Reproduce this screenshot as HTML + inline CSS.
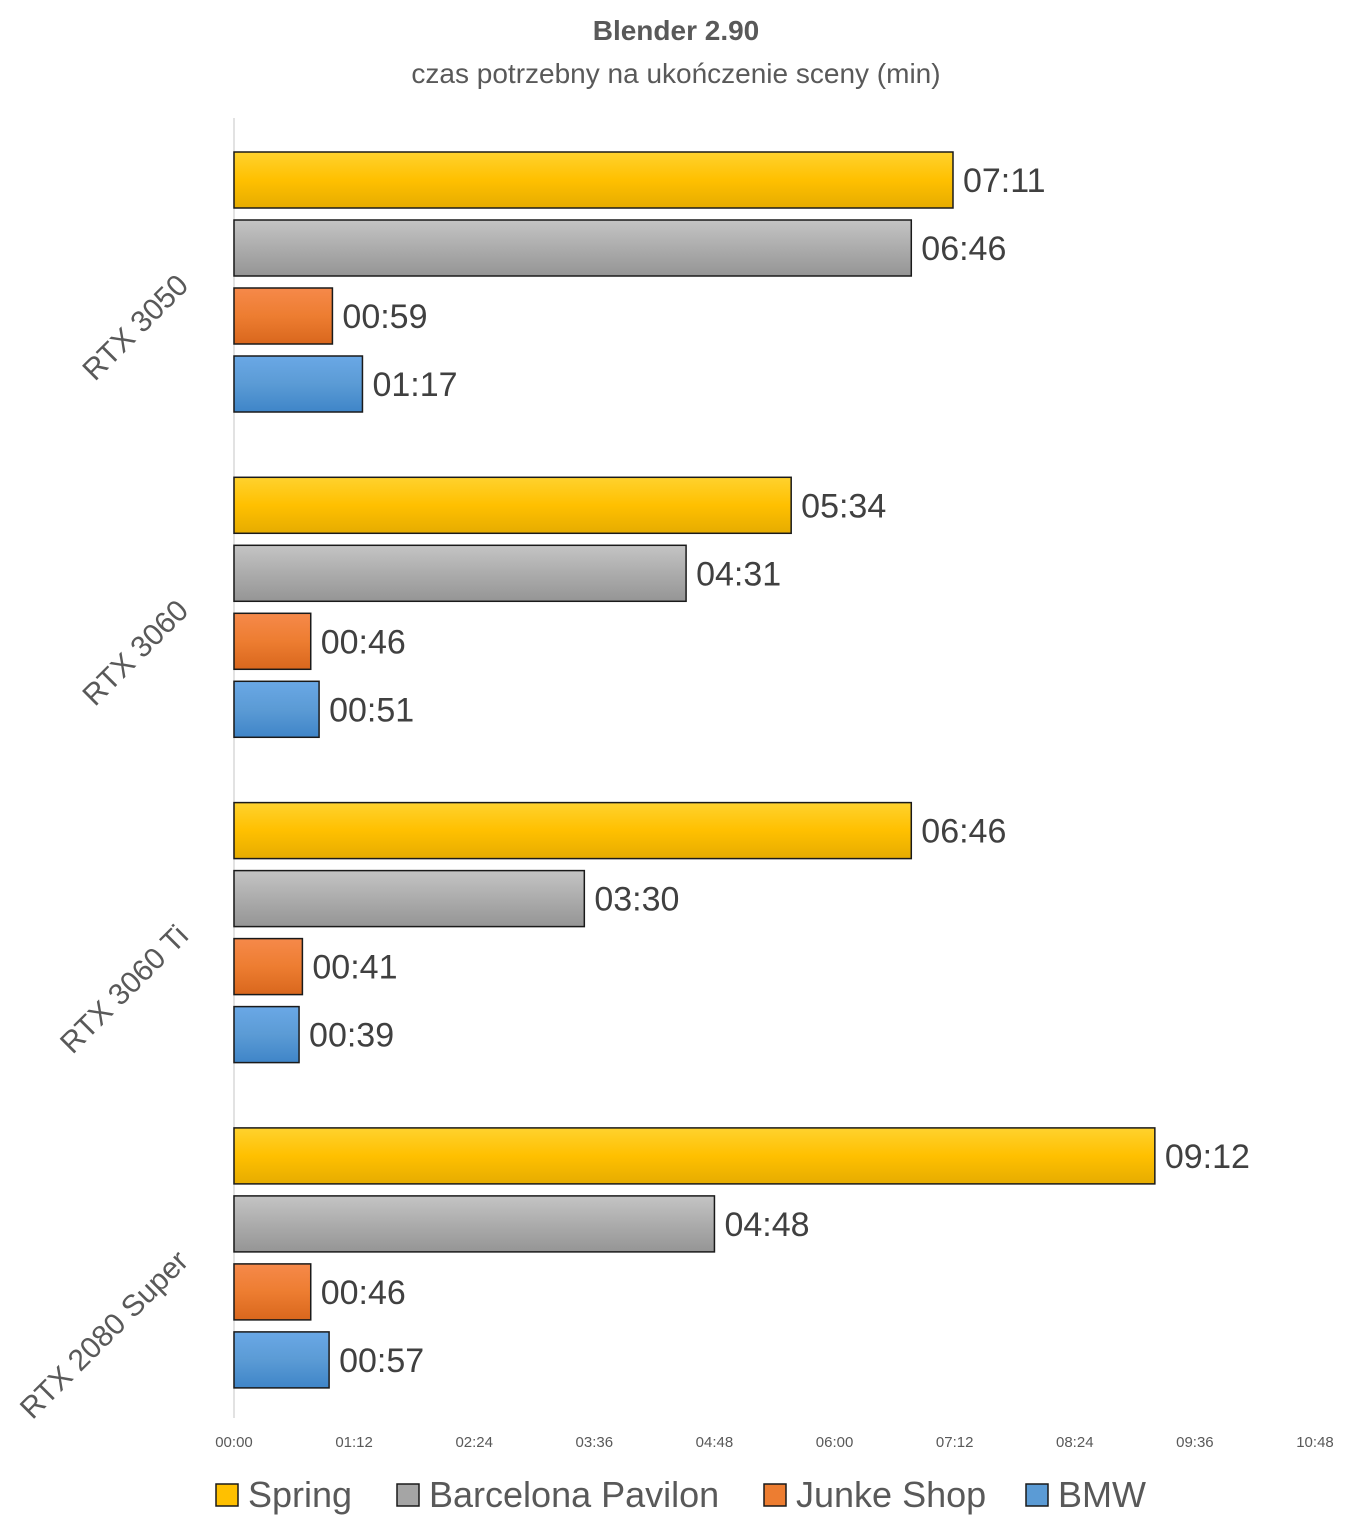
<!DOCTYPE html>
<html><head><meta charset="utf-8"><style>
body{margin:0;background:#fff;}
svg{display:block;font-family:"Liberation Sans",sans-serif;}
</style></head><body>
<svg id="chart" width="1349" height="1533">
<defs>
<linearGradient id="gY" x1="0" y1="0" x2="0" y2="1"><stop offset="0" stop-color="#ffd22e"/><stop offset="0.5" stop-color="#ffc000"/><stop offset="1" stop-color="#e6ac00"/></linearGradient>
<linearGradient id="gG" x1="0" y1="0" x2="0" y2="1"><stop offset="0" stop-color="#c4c4c4"/><stop offset="0.5" stop-color="#acacac"/><stop offset="1" stop-color="#959595"/></linearGradient>
<linearGradient id="gO" x1="0" y1="0" x2="0" y2="1"><stop offset="0" stop-color="#f6894a"/><stop offset="0.5" stop-color="#ed7d31"/><stop offset="1" stop-color="#d9671d"/></linearGradient>
<linearGradient id="gB" x1="0" y1="0" x2="0" y2="1"><stop offset="0" stop-color="#6aa8e6"/><stop offset="0.5" stop-color="#5b9bd5"/><stop offset="1" stop-color="#3f85c8"/></linearGradient>
</defs>
<text x="676" y="40" text-anchor="middle" font-size="28" font-weight="bold" fill="#595959">Blender 2.90</text>
<text x="676" y="83" text-anchor="middle" font-size="28" fill="#595959">czas potrzebny na ukończenie sceny (min)</text>
<line x1="234" y1="118" x2="234" y2="1418" stroke="#d9d9d9" stroke-width="1.5"/>
<g id="bars"></g>
<g id="ticks"></g>
<g id="legend"></g>
</svg>
<script>
const categories = ["RTX 3050","RTX 3060","RTX 3060 Ti","RTX 2080 Super"];
const seriesNames = ["Spring","Barcelona Pavilon","Junke Shop","BMW"];
const spring = [431, 334, 406, 552];
const barcelona = [406, 271, 210, 288];
const junke = [59, 46, 41, 46];
const bmw = [77, 51, 39, 57];
const tickLabels = ["00:00","01:12","02:24","03:36","04:48","06:00","07:12","08:24","09:36","10:48"];
const tickValues = [0,72,144,216,288,360,432,504,576,648];

const NS="http://www.w3.org/2000/svg";
const fills=["url(#gY)","url(#gG)","url(#gO)","url(#gB)"];
const solid=["#ffc000","#a5a5a5","#ed7d31","#5b9bd5"];
const series=[spring,barcelona,junke,bmw];
const x0=234, x1=1315, xmax=648;
const xs=v=>x0+(v/xmax)*(x1-x0);
const gTop=g=>152+g*325.3;
const fmt=s=>String(Math.floor(s/60)).padStart(2,"0")+":"+String(s%60).padStart(2,"0");
function mk(tag,attrs,parent){const e=document.createElementNS(NS,tag);for(const k in attrs)e.setAttribute(k,attrs[k]);parent.appendChild(e);return e;}
const bars=document.getElementById("bars");
categories.forEach((c,g)=>{
  const t=mk("text",{x:190,y:gTop(g)+135,"text-anchor":"end","font-size":30,fill:"#595959",transform:`rotate(-45 190 ${gTop(g)+135})`},bars);
  t.textContent=c;
  
  
  series.forEach((s,i)=>{
    const y=gTop(g)+i*68;
    const r=mk("rect",{x:x0,y:y,width:xs(s[g])-x0,height:56,fill:fills[i],stroke:"#1a1a1a","stroke-width":1.5},bars);
    
    
    const l=mk("text",{x:xs(s[g])+10,y:y+40,"font-size":34,fill:"#404040"},bars);
    l.textContent=fmt(s[g]);
    
    
  });
});
const ticks=document.getElementById("ticks");
tickValues.forEach((v,i)=>{
  const t=mk("text",{x:xs(v),y:1447,"text-anchor":"middle","font-size":15,fill:"#595959"},ticks);
  t.textContent=tickLabels[i];
  
  
});
const legend=document.getElementById("legend");
const lx=[216,397,764,1026];
seriesNames.forEach((n,i)=>{
  const r=mk("rect",{x:lx[i],y:1484,width:22,height:22,fill:solid[i],stroke:"#1a1a1a","stroke-width":1.5},legend);
  
  
  const t=mk("text",{x:lx[i]+32,y:1507,"font-size":36,fill:"#595959"},legend);
  t.textContent=n;
  
  
});
</script>
</body></html>
